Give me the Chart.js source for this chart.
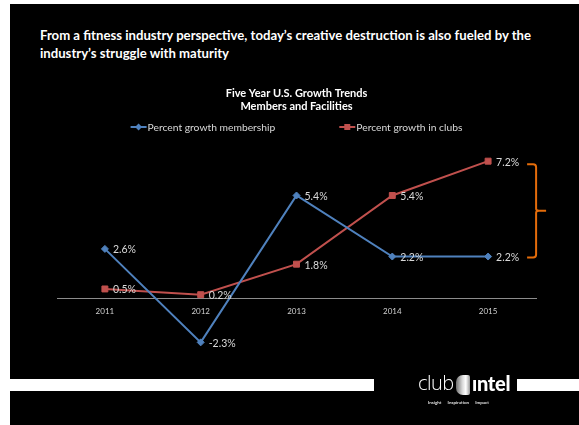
<!DOCTYPE html>
<html>
<head>
<meta charset="utf-8">
<script src="https://cdn.jsdelivr.net/npm/chart.js@4.4.1/dist/chart.umd.min.js"></script>
<style>
  html, body { margin: 0; padding: 0; background: #ffffff; }
  #page { position: relative; width: 579px; height: 425px; overflow: hidden; background: #ffffff; }
  #frame { position: absolute; left: 10px; top: 4px; width: 569px; height: 421px; background: #000000; }
  #headline { position: absolute; left: 40px; top: 26px; color: #ffffff; font-family: Lato, "Open Sans", sans-serif; font-weight: bold; font-size: 13.15px; line-height: 18px; white-space: nowrap; }
  #chartWrap { position: absolute; left: 37px; top: 80px; width: 542px; height: 300px; }
  .bar { position: absolute; background: #ffffff; top: 379px; height: 12px; }
  #club { position: absolute; left: 418px; top: 372px; color: #ffffff; font-family: "Open Sans", Lato, sans-serif; font-weight: 300; font-size: 20px; line-height: 22px; letter-spacing: -0.5px; }
  #door { position: absolute; left: 456px; top: 375px; width: 14px; height: 20px; border-radius: 7px 2px 2px 7px; background: linear-gradient(90deg, #6e6e6e 0%, #d8d8d8 45%, #ffffff 70%, #9a9a9a 100%); }
  #intel { position: absolute; left: 472px; top: 372px; color: #ffffff; font-family: Lato, "Open Sans", sans-serif; font-weight: 900; font-size: 20px; line-height: 22px; letter-spacing: -0.3px; }
  #tag { position: absolute; left: 428px; top: 400px; color: #e0e0e0; font-family: Lato, sans-serif; font-weight: bold; font-size: 4.5px; line-height: 6px; word-spacing: 5px; white-space: nowrap; }
</style>
</head>
<body>
<div id="page">
  <div id="frame"></div>
  <div id="headline">From a fitness industry perspective, today’s creative destruction is also fueled by the<br>industry’s struggle with maturity</div>
  <div id="chartWrap"><canvas id="c" width="542" height="300"></canvas></div>
  <div class="bar" style="left:10px;width:364px;"></div>
  <div class="bar" style="left:517px;width:62px;"></div>
  <div id="club">club</div>
  <div id="door"></div>
  <div id="intel">ıntel</div>
  <div id="tag">Insight Inspiration Impact</div>
</div>
<script>
const years = ['2011', '2012', '2013', '2014', '2015'];
const membershipGrowth = [2.6, -2.3, 5.4, 2.2, 2.2];
const clubGrowth = [0.5, 0.2, 1.8, 5.4, 7.2];
const seriesNames = ['Percent growth membership', 'Percent growth in clubs'];
const chartTitle = ['Five Year U.S. Growth Trends', 'Members and Facilities'];

const BLUE = '#4F81BD';
const RED = '#C0504D';
const ORANGE = '#E46C0A';
const LABEL = '#d9d9d9';

const dataLabels = {
  id: 'dataLabels',
  afterDatasetsDraw(chart) {
    const ctx = chart.ctx;
    ctx.save();
    ctx.font = '10.5px Lato, "Open Sans", sans-serif';
    ctx.fillStyle = LABEL;
    ctx.textAlign = 'left';
    ctx.textBaseline = 'middle';
    chart.data.datasets.forEach((ds, i) => {
      const meta = chart.getDatasetMeta(i);
      meta.data.forEach((pt, j) => {
        ctx.fillText(ds.data[j].toFixed(1) + '%', pt.x + 8, pt.y + 1);
      });
    });
    ctx.restore();
  }
};

const lineLegend = {
  id: 'lineLegend',
  afterDraw(chart) {
    const ctx = chart.ctx;
    const area = chart.chartArea;
    ctx.save();
    ctx.font = '10.3px Lato, "Open Sans", sans-serif';
    const symW = 16, textGap = 1, itemGap = 64;
    const items = chart.data.datasets.map(ds => ({ds, w: symW + textGap + ctx.measureText(ds.label).width}));
    const total = items.reduce((s, it) => s + it.w, 0) + itemGap * (items.length - 1);
    let x = (area.left + area.right) / 2 - total / 2;
    const y = 47;
    items.forEach(it => {
      const ds = it.ds;
      ctx.strokeStyle = ds.borderColor;
      ctx.lineWidth = 2;
      ctx.beginPath();
      ctx.moveTo(x, y);
      ctx.lineTo(x + symW, y);
      ctx.stroke();
      ctx.fillStyle = ds.backgroundColor;
      ctx.beginPath();
      const r = ds.pointRadius;
      if (ds.pointStyle === 'rect') {
        ctx.rect(x + symW / 2 - 3, y - 3, 6, 6);
      } else {
        ctx.moveTo(x + symW / 2, y - r);
        ctx.lineTo(x + symW / 2 + r, y);
        ctx.lineTo(x + symW / 2, y + r);
        ctx.lineTo(x + symW / 2 - r, y);
        ctx.closePath();
      }
      ctx.fill();
      ctx.fillStyle = LABEL;
      ctx.textAlign = 'left';
      ctx.textBaseline = 'middle';
      ctx.fillText(ds.label, x + symW + textGap, y + 1);
      x += it.w + itemGap;
    });
    ctx.restore();
  }
};

const bracket = {
  id: 'bracket',
  afterDatasetsDraw(chart) {
    const ctx = chart.ctx;
    const xs = chart.scales.x, ys = chart.scales.y;
    const last = years.length - 1;
    const hi = Math.max(membershipGrowth[last], clubGrowth[last]);
    const lo = Math.min(membershipGrowth[last], clubGrowth[last]);
    const px = xs.getPixelForValue(last);
    const top = ys.getPixelForValue(hi) + 3;
    const bot = ys.getPixelForValue(lo) + 1;
    const mid = (top + bot) / 2;
    const x0 = px + 39, x1 = px + 48, x2 = px + 58;
    ctx.save();
    ctx.strokeStyle = ORANGE;
    ctx.lineWidth = 2;
    ctx.beginPath();
    ctx.moveTo(x0, top);
    ctx.lineTo(x1 - 3, top);
    ctx.quadraticCurveTo(x1, top, x1, top + 3);
    ctx.lineTo(x1, mid - 2);
    ctx.quadraticCurveTo(x1, mid, x1 + 3, mid);
    ctx.lineTo(x2, mid);
    ctx.moveTo(x1 + 3, mid);
    ctx.quadraticCurveTo(x1, mid, x1, mid + 2);
    ctx.lineTo(x1, bot - 3);
    ctx.quadraticCurveTo(x1, bot, x1 - 3, bot);
    ctx.lineTo(x0, bot);
    ctx.stroke();
    ctx.restore();
  }
};

new Chart(document.getElementById('c'), {
  type: 'line',
  data: {
    labels: years,
    datasets: [
      {
        label: seriesNames[0],
        data: membershipGrowth,
        borderColor: BLUE,
        backgroundColor: BLUE,
        borderWidth: 2,
        pointStyle: 'rectRot',
        pointRadius: 3.5,
        pointBorderWidth: 1,
        tension: 0
      },
      {
        label: seriesNames[1],
        data: clubGrowth,
        borderColor: RED,
        backgroundColor: RED,
        borderWidth: 2,
        pointStyle: 'rect',
        pointRadius: 4.2,
        pointBorderWidth: 1,
        tension: 0
      }
    ]
  },
  options: {
    responsive: false,
    animation: false,
    layout: { padding: { left: 20, right: 43, top: 0, bottom: 5 } },
    plugins: {
      legend: { display: false },
      tooltip: { enabled: false },
      title: {
        display: true,
        text: chartTitle,
        color: '#ffffff',
        font: { family: 'Lato, "Open Sans", sans-serif', size: 11, weight: 'bold', lineHeight: 1.2 },
        padding: { top: 6.4, bottom: 33.1 }
      }
    },
    scales: {
      x: {
        position: { y: 0 },
        offset: true,
        grid: { display: false, drawTicks: false },
        border: { display: true, color: '#8c8c8c', width: 1 },
        ticks: { color: '#d0d0d0', font: { family: 'Lato, "Open Sans", sans-serif', size: 8 }, padding: 8 }
      },
      y: {
        display: false,
        min: -4,
        max: 8
      }
    }
  },
  plugins: [dataLabels, lineLegend, bracket]
});
</script>
</body>
</html>
